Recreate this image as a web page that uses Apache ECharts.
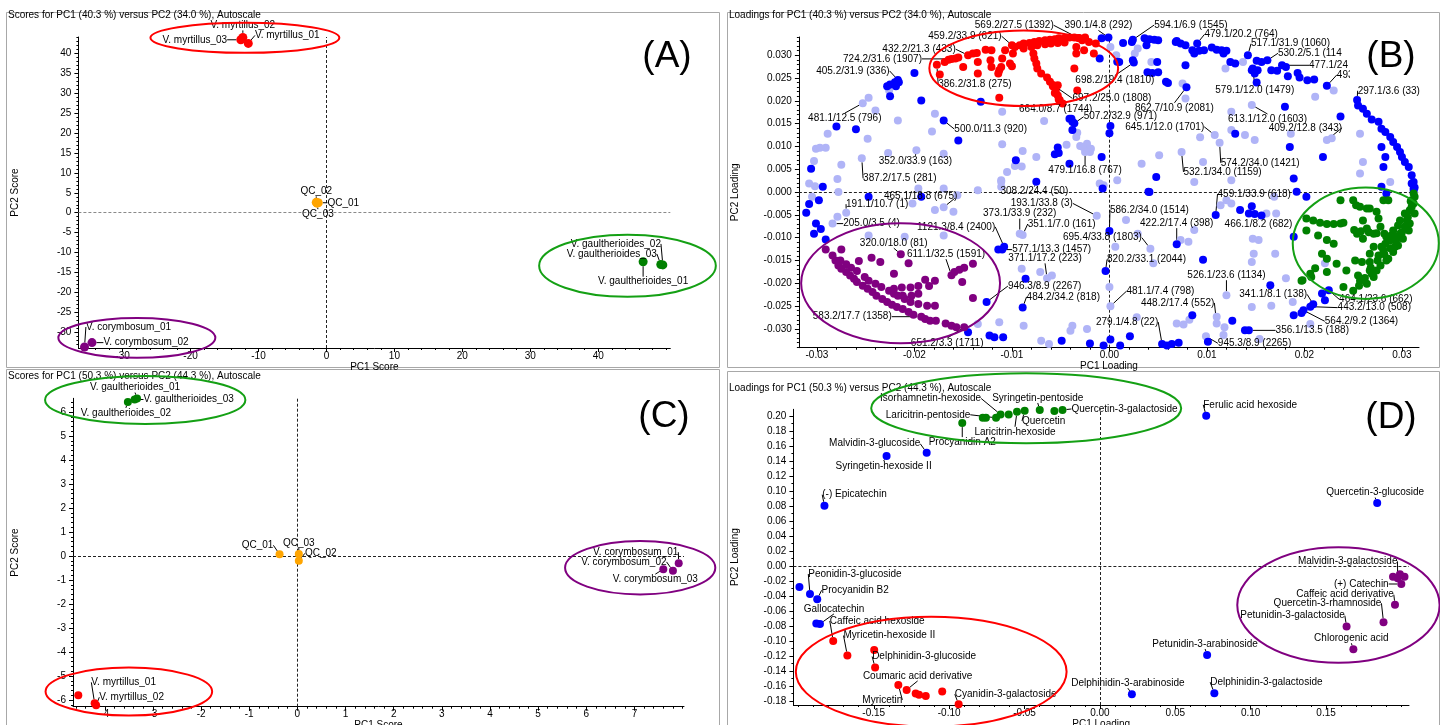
<!DOCTYPE html>
<html><head><meta charset="utf-8">
<script src="https://cdn.jsdelivr.net/npm/echarts@6.0.0/dist/echarts.min.js"></script>
<style>html,body{margin:0;padding:0;background:#fff}#c{width:1440px;height:725px}</style>
</head><body><div id="c"></div><script>
const FONT = "'Liberation Sans', Arial, Helvetica, sans-serif";

// ---------- Panel A : scores PC1 vs PC2 ----------
const A_MYRT = [[-11.5,42.5,'V. myrtillus_01'],[-12.3,44.0,'V. myrtillus_02'],[-12.6,43.4,'V. myrtillus_03']];
const A_QC = [[-1.2,2.5,'QC_01'],[-1.5,2.6,'QC_02'],[-1.4,2.4,'QC_03']];
const A_GAUL = [[46.6,-12.3,'V. gaultherioides_01'],[49.5,-13.1,'V. gaultherioides_02'],[49.2,-13.0,'V. gaultherioides_03']];
const A_CORY = [[-35.6,-33.7,'V. corymbosum_01'],[-34.5,-32.6,'V. corymbosum_02']];
const A_XTICKS = [-30,-20,-10,0,10,20,30,40];
const A_YTICKS = [-30,-25,-20,-15,-10,-5,0,5,10,15,20,25,30,35,40];

// ---------- Panel C : scores ----------
const C_GAUL = [[-3.33,6.56,'V. gaultherioides_01'],[-3.38,6.52,'V. gaultherioides_03'],[-3.52,6.42,'V. gaultherioides_02']];
const C_QC = [[-0.37,0.07,'QC_01'],[0.03,0.08,'QC_03'],[0.03,-0.2,'QC_02']];
const C_CORY = [[7.92,-0.3,'V. corymbosum_01'],[7.8,-0.62,'V. corymbosum_02'],[7.6,-0.55,'V. corymbosum_03']];
const C_MYRT = [[-4.21,-6.14,'V. myrtillus_01'],[-4.18,-6.22,'V. myrtillus_02'],[-4.55,-5.8]];
const C_XTICKS = [-4,-3,-2,-1,0,1,2,3,4,5,6,7];
const C_YTICKS = [-6,-5,-4,-3,-2,-1,0,1,2,3,4,5,6];

// ---------- Panel D : loadings (named compounds) ----------
const D_GREEN = [[-0.0777,0.1976],[-0.0756,0.1976],[-0.0689,0.1976,'Laricitrin-pentoside'],[-0.0659,0.2020,'Isorhamnetin-hexoside'],[-0.0605,0.2020],[-0.0550,0.2056,'Laricitrin-hexoside'],[-0.0499,0.2069,'Quercetin'],[-0.0399,0.2080,'Syringetin-pentoside'],[-0.0302,0.2065],[-0.0248,0.2080,'Quercetin-3-galactoside'],[-0.0913,0.1905,'Procyanidin A2']];
const D_BLUE = [[0.0705,0.2002,'Ferulic acid hexoside'],[-0.1149,0.1510,'Malvidin-3-glucoside'],[-0.1415,0.1465,'Syringetin-hexoside II'],[-0.1827,0.0804,'(-) Epicatechin'],[0.1839,0.0839,'Quercetin-3-glucoside'],[-0.1993,-0.0280],[-0.1923,-0.0373,'Peonidin-3-glucoside'],[-0.1875,-0.0444,'Procyanidin B2'],[-0.1881,-0.0768],[-0.1857,-0.0772,'Gallocatechin'],[0.0711,-0.1186,'Petunidin-3-arabinoside'],[0.0212,-0.1709,'Delphinidin-3-arabinoside'],[0.0759,-0.1696,'Delphinidin-3-galactoside']];
const D_RED = [[-0.1769,-0.0999,'Caffeic acid hexoside'],[-0.1675,-0.1194,'Myricetin-hexoside II'],[-0.1497,-0.1119],[-0.1491,-0.1354,'Delphinidin-3-glucoside'],[-0.1337,-0.1585,'Myricetin'],[-0.1282,-0.1652,'Coumaric acid derivative'],[-0.1222,-0.1701],[-0.1200,-0.1718],[-0.1155,-0.1732],[-0.1046,-0.1674],[-0.0937,-0.1843,'Cyanidin-3-galactoside']];
const D_PURPLE = [[0.1990,-0.0111],[0.2020,-0.0142],[0.1944,-0.0142],[0.1975,-0.0164,'Malvidin-3-galactoside'],[0.1999,-0.0240,'(+) Catechin'],[0.1957,-0.0515,'Caffeic acid derivative'],[0.1881,-0.0750,'Quercetin-3-rhamnoside'],[0.1636,-0.0808,'Petunidin-3-galactoside'],[0.1681,-0.1110,'Chlorogenic acid']];
const D_XTICKS = [-0.15,-0.10,-0.05,0,0.05,0.10,0.15];
const D_YTICKS = [-0.18,-0.16,-0.14,-0.12,-0.10,-0.08,-0.06,-0.04,-0.02,0,0.02,0.04,0.06,0.08,0.10,0.12,0.14,0.16,0.18,0.20];

// ---------- Panel B : loadings (features) ----------
const B_LIGHT = [[-0.0253,0.0195,'481.1/12.5 (796)'],[-0.0247,0.0207],[-0.0240,0.0179],[-0.0254,0.0074,'387.2/17.5 (281)'],[-0.0248,0.0117],[-0.0289,0.0128],[-0.0275,0.0060],[-0.0301,0.0095],[-0.0297,0.0097],[-0.0291,0.0097],[-0.0303,0.0068],[-0.0302,0.0013],[-0.0279,0.0029],[-0.0278,0.0000],[-0.0217,0.0157],[-0.0227,0.0086],[-0.0198,0.0092,'352.0/33.9 (163)'],[-0.0170,0.0084],[-0.0182,0.0133],[-0.0179,0.0172],[-0.0110,0.0176],[-0.0089,0.0090],[-0.0110,0.0105],[-0.0097,0.0057],[-0.0105,0.0044],[-0.0075,0.0077],[-0.0067,0.0156],[-0.0135,0.0004],[-0.0111,0.0026],[-0.0196,0.0008],[-0.0170,0.0008],[-0.0033,0.0130],[-0.0030,0.0101],[-0.0044,0.0104],[-0.0226,0.0223],[-0.0308,0.0019],
[0.0001,0.0318],[0.0007,0.0300],[0.0029,0.0315],[0.0026,0.0304],[0.0043,0.0285],[0.0075,0.0238],[0.0078,0.0205],[0.0119,0.0271],[0.0137,0.0285],[0.0146,0.0191,'613.1/12.0 (1603)'],[0.0125,0.0176],[0.0125,0.0136],[0.0113,0.0108,'574.2/34.0 (1421)'],[0.0108,0.0125,'645.1/12.0 (1701)'],[0.0093,0.0120],[0.0074,0.0088,'532.1/34.0 (1159)'],[0.0051,0.0081],[0.0033,0.0062],[0.0096,0.0066],[0.0149,0.0114],[0.0139,0.0125],[0.0186,0.0128],[0.0223,0.0114,'409.2/12.8 (343)'],[0.0228,0.0118],[0.0230,0.0223],[0.0211,0.0209],[0.0257,0.0128],[0.0260,0.0066],[0.0257,0.0041],[0.0288,0.0022],[0.0125,0.0026],[0.0087,0.0022],[-0.0023,0.0106],[-0.0019,0.0095],
[-0.0034,0.0121],[-0.0022,0.0096],[-0.0027,0.0099],[-0.0020,0.0088],[-0.0025,0.0088,'479.1/16.8 (767)'],[-0.0090,0.0056],[-0.0111,0.0023],[-0.0006,0.0015],[-0.0010,0.0019],[0.0008,0.0026],
[-0.0305,-0.0010],[-0.0270,-0.0045,'191.1/10.7 (1)'],[-0.0284,-0.0069,'205.0/3.5 (4)'],[-0.0247,-0.0095],[-0.0210,-0.0098],[-0.0170,-0.0033,'465.1/18.8 (675)'],[-0.0160,-0.0043],[-0.0170,-0.0095],[-0.0092,-0.0091,'373.1/33.9 (232)'],[-0.0089,-0.0094,'351.1/7.0 (161)'],[-0.0090,-0.0168],[-0.0071,-0.0175],[-0.0064,-0.0189,'371.1/17.2 (223)'],[-0.0059,-0.0183],[-0.0135,-0.0289],[-0.0113,-0.0285],[-0.0088,-0.0293],[-0.0038,-0.0293],[-0.0040,-0.0304],[-0.0070,-0.0326],[-0.0062,-0.0333],[-0.0111,0.0012],[-0.0279,-0.0054],[-0.0202,-0.0025],[-0.0179,-0.0039],[-0.0156,-0.0007],
[0.0114,-0.0029],[0.0125,-0.0025],[0.0161,-0.0047],[0.0171,-0.0047],[-0.0013,-0.0052,'193.1/33.8 (3)'],[0.0042,-0.0124,'695.4/33.8 (1803)'],[0.0081,-0.0109],[0.0147,-0.0102],[0.0170,-0.0135],[0.0146,-0.0153],[0.0120,-0.0226,'526.1/23.6 (1134)'],[0.0146,-0.0252],[0.0166,-0.0249],[0.0188,-0.0241],[0.0069,-0.0288],[0.0076,-0.0290],[0.0082,-0.0280],[0.0110,-0.0273],[0.0110,-0.0288,'448.2/17.4 (552)'],[0.0118,-0.0296],[0.0117,-0.0313],[0.0099,-0.0316,'945.3/8.9 (2265)'],[0.0028,-0.0274],[-0.0023,-0.0300],[0.0001,-0.0250,'481.1/7.4 (798)'],[0.0000,-0.0208],[0.0154,-0.0322],[0.0206,-0.0289],[0.0006,-0.0120],[0.0017,-0.0061],[0.0029,-0.0091],[0.0045,-0.0156],[0.0073,-0.0105],[0.0087,-0.0083],[0.0120,-0.0018],[0.0153,-0.0105],[0.0148,-0.0135],[0.0181,-0.0189],[0.0221,-0.0156],[0.0169,-0.0010]];

const B_DARK = [[-0.0008,0.0337],[-0.0001,0.0339,'390.1/4.8 (292)'],[-0.0010,0.0293],[0.0008,0.0286],[0.0014,0.0327],[0.0024,0.0334,'594.1/6.9 (1545)'],[0.0023,0.0329],[0.0036,0.0337],[0.0041,0.0335],[0.0046,0.0334],[0.0050,0.0333],[0.0038,0.0322],[0.0010,0.0285],[0.0024,0.0289],[0.0025,0.0284,'698.2/19.4 (1810)'],[0.0049,0.0285],[0.0039,0.0263],[0.0044,0.0261],[0.0050,0.0263],[0.0060,0.0239],[0.0079,0.0230,'862.7/10.9 (2081)'],[0.0058,0.0242],[0.0068,0.0329],[0.0073,0.0326],[0.0078,0.0322],[0.0090,0.0326,'479.1/20.2 (764)'],[0.0085,0.0311],[0.0087,0.0304],[0.0092,0.0310],[0.0097,0.0311],[0.0105,0.0317],[0.0110,0.0312],[0.0115,0.0311],[0.0120,0.0310],[0.0117,0.0304],[0.0078,0.0278],[0.0124,0.0285],[0.0129,0.0282],[0.0142,0.0300,'517.1/31.9 (1060)'],[0.0151,0.0288],[0.0156,0.0285],[0.0162,0.0289,'530.2/5.1 (114'],[0.0146,0.0267],[0.0152,0.0267],[0.0149,0.0260],[0.0147,0.0271,'579.1/12.0 (1479)'],[0.0151,0.0240],[0.0166,0.0267],[0.0172,0.0266],[0.0177,0.0278,'477.1/24'],[0.0181,0.0274],[0.0183,0.0254],[0.0193,0.0261],[0.0195,0.0251],[0.0203,0.0245],[0.0210,0.0247],[0.0223,0.0233,'493'],[0.0180,0.0187],[0.0237,0.0166],[0.0129,0.0128],[0.0185,0.0099],[0.0219,0.0077],[0.0048,0.0033],[0.0189,0.0030],[-0.0008,0.0077],[0.0069,0.0331],
[0.0255,0.0190],[0.0254,0.0202,'297.1/3.6 (33)'],[0.0260,0.0183],[0.0264,0.0172],[0.0269,0.0159],[0.0276,0.0154],[0.0279,0.0139],[0.0283,0.0132],[0.0288,0.0121],[0.0291,0.0110],[0.0295,0.0099],[0.0298,0.0088],[0.0300,0.0077],[0.0303,0.0066],[0.0307,0.0055],[0.0310,0.0037],[0.0312,0.0022],[0.0279,0.0099],[0.0283,0.0077],[0.0281,0.0055],[0.0313,0.0010],[0.0312,0.0003],
[-0.0007,0.0008],[0.0001,0.0145],[0.0000,0.0129],[0.0041,0.0000],[-0.0036,0.0151,'507.2/32.9 (971)'],[-0.0039,0.0161],[-0.0038,0.0154],[-0.0038,0.0136],[-0.0041,0.0161],
[-0.0200,0.0261],[-0.0225,0.0236],[-0.0220,0.0241],[-0.0216,0.0241],[-0.0228,0.0232],[-0.0219,0.0232],[-0.0217,0.0246,'405.2/31.9 (336)'],[-0.0225,0.0210],[-0.0193,0.0201],[-0.0132,0.0198],[-0.0170,0.0157,'500.0/11.3 (920)'],[-0.0280,0.0144],[-0.0260,0.0138],[-0.0155,0.0113],[-0.0306,0.0051],[-0.0096,0.0070],[-0.0053,0.0098],[-0.0056,0.0083],[-0.0052,0.0086],[-0.0041,0.0062],[-0.0075,0.0023,'308.2/24.4 (50)'],
[-0.0311,-0.0045],[-0.0308,-0.0026],[-0.0298,-0.0018],[-0.0294,0.0012],[-0.0301,-0.0069],[-0.0296,-0.0081],[-0.0303,-0.0091],[-0.0291,-0.0104],[-0.0247,-0.0010],[-0.0193,-0.0010],[-0.0126,-0.0241,'946.3/8.9 (2267)'],[-0.0108,-0.0120,'1121.3/8.4 (2400)'],[-0.0110,-0.0126,'577.1/13.3 (1457)'],[-0.0114,-0.0126],[-0.0086,-0.0190],[-0.0089,-0.0253,'484.2/34.2 (818)'],[-0.0145,-0.0307],[-0.0123,-0.0314],[-0.0118,-0.0318],[-0.0109,-0.0318],[-0.0049,-0.0326],[-0.0004,-0.0173,'820.2/33.1 (2044)'],[0.0000,-0.0085,'586.2/34.0 (1514)'],
[0.0040,0.0001],[0.0109,-0.0050,'459.1/33.9 (618)'],[0.0134,-0.0039],[0.0143,-0.0047],[0.0149,-0.0048],[0.0156,-0.0051,'466.1/8.2 (682)'],[0.0146,-0.0031],[0.0069,-0.0114,'422.2/17.4 (398)'],[0.0096,-0.0148],[0.0189,-0.0098],[0.0165,-0.0204],[0.0218,-0.0222],[0.0221,-0.0237],[0.0225,-0.0215,'464.1/23.6 (662)'],[0.0209,-0.0246,'341.1/8.1 (138)'],[0.0206,-0.0251,'443.2/13.0 (508)'],[0.0199,-0.0259,'564.2/9.2 (1364)'],[0.0197,-0.0265],[0.0189,-0.0270],[0.0143,-0.0303,'356.1/13.5 (188)'],[0.0139,-0.0303],[0.0126,-0.0282],[0.0085,-0.0270],[0.0101,-0.0328],[0.0054,-0.0333,'279.1/4.8 (22)'],[0.0059,-0.0336],[0.0064,-0.0333],[0.0071,-0.0330],[0.0001,-0.0323],[0.0011,-0.0336],[0.0021,-0.0316],[-0.0006,-0.0336],[-0.0020,-0.0332],[0.0192,0.0001],[0.0202,-0.0010],[0.0279,0.0012],[0.0284,-0.0003],[0.0310,0.0019],[0.0312,0.0008]];

const B_RED = [[-0.0177,0.0279,'386.2/31.8 (275)'],[-0.0174,0.0258],[-0.0169,0.0285],[-0.0165,0.0290],[-0.0158,0.0293],[-0.0155,0.0295],[-0.0150,0.0274],[-0.0145,0.0300,'432.2/21.3 (433)'],[-0.0140,0.0304],[-0.0136,0.0305],[-0.0135,0.0285],[-0.0135,0.0260],[-0.0127,0.0312],[-0.0122,0.0289],[-0.0121,0.0311],[-0.0121,0.0274],[-0.0114,0.0260],[-0.0113,0.0267],[-0.0111,0.0274],[-0.0110,0.0293],[-0.0107,0.0311],[-0.0102,0.0282],[-0.0099,0.0304],[-0.0100,0.0276],[-0.0097,0.0318],[-0.0113,0.0207],[-0.0033,0.0223],[-0.0036,0.0271],[-0.0034,0.0318],
[-0.0092,0.0322],[-0.0088,0.0326],[-0.0082,0.0327],[-0.0077,0.0329],[-0.0072,0.0331],[-0.0066,0.0333],[-0.0061,0.0334],[-0.0056,0.0335],[-0.0052,0.0337],[-0.0046,0.0337],[-0.0041,0.0339],[-0.0036,0.0339],[-0.0031,0.0338],[-0.0088,0.0315],[-0.0080,0.0318],[-0.0074,0.0322],[-0.0066,0.0324],[-0.0060,0.0326],[-0.0053,0.0327],[-0.0046,0.0328],
[-0.0078,0.0304],[-0.0077,0.0293],[-0.0075,0.0282],[-0.0074,0.0271],[-0.0070,0.0260],[-0.0064,0.0251],[-0.0061,0.0242],[-0.0058,0.0232],[-0.0055,0.0222],[-0.0053,0.0212],[-0.0052,0.0203],[-0.0048,0.0194],[-0.0053,0.0234],[-0.0056,0.0217],
[-0.0028,0.0333],[-0.0021,0.0329],[-0.0014,0.0326],[-0.0026,0.0311],[-0.0016,0.0304],[-0.0034,0.0304],[-0.0025,0.0339],
[-0.0032,0.0338,'569.2/27.5 (1392)'],[-0.0100,0.0322,'459.2/33.9 (621)'],[-0.0162,0.0292,'724.2/31.6 (1907)'],[-0.0058,0.0235,'697.2/25.0 (1808)'],[-0.0051,0.0202,'664.0/8.7 (1744)']];

const B_GREEN = [[0.0202,-0.0058],[0.0209,-0.0062],[0.0216,-0.0067],[0.0223,-0.0070],[0.0230,-0.0070],[0.0237,-0.0069],[0.0202,-0.0084],[0.0214,-0.0095],[0.0230,-0.0113],[0.0240,-0.0067],[0.0250,-0.0018],[0.0257,-0.0032],[0.0264,-0.0036],[0.0274,-0.0043],[0.0281,-0.0018],[0.0276,-0.0058],[0.0264,-0.0080],[0.0254,-0.0091],[0.0260,-0.0102],[0.0271,-0.0120],[0.0279,-0.0120],[0.0267,-0.0135],[0.0259,-0.0153],[0.0252,-0.0150],[0.0243,-0.0172],[0.0233,-0.0157],[0.0223,-0.0146],[0.0223,-0.0175],[0.0240,-0.0208],[0.0250,-0.0216],[0.0257,-0.0194],[0.0267,-0.0172],[0.0278,-0.0161],[0.0284,-0.0150],[0.0293,-0.0120],[0.0298,-0.0091],[0.0305,-0.0062],[0.0308,-0.0040],[0.0312,-0.0025],[0.0313,-0.0047],[0.0303,-0.0076],[0.0295,-0.0098],[0.0288,-0.0106],[0.0281,-0.0128],[0.0271,-0.0186],[0.0264,-0.0201],[0.0255,-0.0183],[0.0197,-0.0194],[0.0206,-0.0179],
[0.0308,-0.0069],[0.0307,-0.0084],[0.0301,-0.0102],[0.0296,-0.0117],[0.0291,-0.0131],[0.0286,-0.0146],[0.0274,-0.0172],[0.0269,-0.0179],[0.0298,-0.0062],[0.0291,-0.0084],[0.0284,-0.0098],[0.0278,-0.0076],[0.0271,-0.0091],[0.0260,-0.0062],[0.0312,-0.0003],[0.0310,-0.0018],[0.0303,-0.0047],[0.0296,-0.0073],[0.0289,-0.0095],[0.0283,-0.0113],[0.0276,-0.0139],[0.0267,-0.0153],
[0.0310,-0.0032],[0.0306,-0.0055],[0.0300,-0.0088],[0.0294,-0.0106],[0.0288,-0.0123],[0.0282,-0.0136],[0.0275,-0.0150],[0.0268,-0.0166],[0.0262,-0.0188],[0.0256,-0.0205],[0.0313,-0.0010],[0.0309,-0.0020],
[0.0251,-0.0083],[0.0258,-0.0086],[0.0266,-0.0088],[0.0274,-0.0090],[0.0282,-0.0091],[0.0223,-0.0105],[0.0218,-0.0135],[0.0211,-0.0167],[0.0207,-0.0186],[0.0198,-0.0193],[0.0237,-0.0018],[0.0253,-0.0029],[0.0267,-0.0036],[0.0286,-0.0018]];

const B_PURPLE = [[-0.0284,-0.0139],[-0.0281,-0.0150],[-0.0278,-0.0161],[-0.0275,-0.0168],[-0.0270,-0.0175],[-0.0266,-0.0183],[-0.0262,-0.0190],[-0.0259,-0.0197],[-0.0253,-0.0205],[-0.0248,-0.0212],[-0.0243,-0.0219],[-0.0239,-0.0227],[-0.0233,-0.0234],[-0.0228,-0.0241],[-0.0223,-0.0247],[-0.0218,-0.0252],[-0.0212,-0.0256],[-0.0206,-0.0263],[-0.0201,-0.0269],[-0.0193,-0.0273,'583.2/17.7 (1358)'],[-0.0189,-0.0278],[-0.0184,-0.0282],[-0.0178,-0.0282],[-0.0168,-0.0288],[-0.0162,-0.0293],[-0.0157,-0.0296],[-0.0149,-0.0296,'651.2/3.3 (1711)'],
[-0.0291,-0.0126],[-0.0275,-0.0126],
[-0.0276,-0.0150],[-0.0270,-0.0158],[-0.0265,-0.0166],[-0.0259,-0.0173],[-0.0251,-0.0186],[-0.0247,-0.0194],[-0.0240,-0.0201],[-0.0234,-0.0208],[-0.0226,-0.0216],[-0.0221,-0.0223],[-0.0217,-0.0227],[-0.0210,-0.0234],[-0.0204,-0.0241],
[-0.0221,-0.0212],[-0.0213,-0.0209],[-0.0204,-0.0209],[-0.0196,-0.0206],[-0.0185,-0.0206],[-0.0212,-0.0227],[-0.0203,-0.0227],[-0.0196,-0.0223],[-0.0196,-0.0245],[-0.0187,-0.0249],[-0.0179,-0.0249],
[-0.0257,-0.0151],[-0.0244,-0.0144],[-0.0235,-0.0153],[-0.0221,-0.0179],[-0.0214,-0.0136,'320.0/18.0 (81)'],[-0.0206,-0.0156],[-0.0189,-0.0192],[-0.0179,-0.0194],[-0.0162,-0.0182,'611.1/32.5 (1591)'],[-0.0159,-0.0175],[-0.0154,-0.0170],[-0.0149,-0.0166],[-0.0151,-0.0197],[-0.0140,-0.0157],[-0.0140,-0.0232]];
const B_XTICKS = [-0.03,-0.02,-0.01,0,0.01,0.02,0.03];
const B_YTICKS = [-0.03,-0.025,-0.02,-0.015,-0.01,-0.005,0,0.005,0.01,0.015,0.02,0.025,0.03];

// ---------- layout / style (kept apart from the data) ----------
const OFF_A = {'V. myrtillus_01':[39,-8],'V. myrtillus_02':[0,-12],'V. myrtillus_03':[-46,0],'QC_01':[25,0],'QC_02':[0,-11],'QC_03':[1,11],
 'V. gaultherioides_01':[0,20],'V. gaultherioides_02':[-47,-21],'V. gaultherioides_03':[-49,-10.5],'V. corymbosum_01':[44,-20],'V. corymbosum_02':[54,0]};
const OFF_C = {'V. gaultherioides_01':[-2,-11],'V. gaultherioides_03':[54,0],'V. gaultherioides_02':[-2,11],'QC_01':[-22,-9],'QC_03':[0,-11],'QC_02':[22,-7.5],
 'V. corymbosum_01':[-43,-11],'V. corymbosum_02':[-49,-9],'V. corymbosum_03':[-8,10],'V. myrtillus_01':[29,-21],'V. myrtillus_02':[35.5,-8]};
const OFF_D = {'Isorhamnetin-hexoside':[-70,-16],'Syringetin-pentoside':[-2,-12],'Laricitrin-pentoside':[-68,-3],'Quercetin-3-galactoside':[62,-1],'Quercetin':[19,10],
 'Laricitrin-hexoside':[-2,20],'Procyanidin A2':[0,19],'Malvidin-3-glucoside':[-52,-9],'Syringetin-hexoside II':[-3,10],'(-) Epicatechin':[30,-11],
 'Ferulic acid hexoside':[44,-11],'Quercetin-3-glucoside':[-2,-10.5],'Peonidin-3-glucoside':[45,-20],'Procyanidin B2':[38,-9],'Gallocatechin':[14,-15],
 'Petunidin-3-arabinoside':[-2,-11],'Delphinidin-3-arabinoside':[-4,-11],'Delphinidin-3-galactoside':[52,-11],'Caffeic acid hexoside':[44,-20],
 'Myricetin-hexoside II':[42,-20],'Delphinidin-3-glucoside':[49,-11],'Myricetin':[-16,15],'Coumaric acid derivative':[11,-14],'Cyanidin-3-galactoside':[47,-10],
 'Malvidin-3-galactoside':[-50,-17],'(+) Catechin':[-40,0],'Caffeic acid derivative':[-50,-10],'Quercetin-3-rhamnoside':[-56,-19],'Petunidin-3-galactoside':[-54,-11],'Chlorogenic acid':[-2,-11]};
const OFF_B = {'569.2/27.5 (1392)':[-64,-12.6],'390.1/4.8 (292)':[-10,-12],'594.1/6.9 (1545)':[58,-14.7],'479.1/20.2 (764)':[44,-9],'517.1/31.9 (1060)':[42.6,-11.5],
 '530.2/5.1 (114':[10.6,-7,'left'],'477.1/24':[27,0,'left'],'493':[10,-11,'left'],'297.1/3.6 (33)':[31.7,-9.2],'579.1/12.0 (1479)':[2,21.6],'862.7/10.9 (2081)':[-12,20.6],
 '613.1/12.0 (1603)':[15.7,14],'409.2/12.8 (343)':[-21.5,-12.3],'645.1/12.0 (1701)':[-50,-8.3],'574.2/34.0 (1421)':[40.6,20],'532.1/34.0 (1159)':[41,20],
 '479.1/16.8 (767)':[0,18],'507.2/32.9 (971)':[46,-6.5],'698.2/19.4 (1810)':[-19,18],'697.2/25.0 (1808)':[59,13.5],'664.0/8.7 (1744)':[-4,9],
 '459.2/33.9 (621)':[-47,-9],'432.2/21.3 (433)':[-49,-6],'724.2/31.6 (1907)':[-69,0],'405.2/31.9 (336)':[-45,-9],'386.2/31.8 (275)':[38,19],
 '481.1/12.5 (796)':[-18,15],'500.0/11.3 (920)':[47,8.6],'352.0/33.9 (163)':[-1,10.7],'387.2/17.5 (281)':[38,20],'465.1/18.8 (675)':[-23,-11],
 '191.1/10.7 (1)':[31,-8.5],'205.0/3.5 (4)':[39,0],'1121.3/8.4 (2400)':[-48,-20],'577.1/13.3 (1457)':[10,0,'left'],'320.0/18.0 (81)':[-7,-11],
 '611.1/32.5 (1591)':[-5.5,-21],'371.1/17.2 (223)':[-2,-20],'373.1/33.9 (232)':[0,-20],'351.1/7.0 (161)':[39,-11],'193.1/33.8 (3)':[-55,-12.4],
 '586.2/34.0 (1514)':[40,-21],'308.2/24.4 (50)':[-2,10],'459.1/33.9 (618)':[38.5,-21],'466.1/8.2 (682)':[-3,9],'422.2/17.4 (398)':[0,-21],
 '695.4/33.8 (1803)':[-48,-11],'820.2/33.1 (2044)':[41,-11.6],'526.1/23.6 (1134)':[0,-20],'481.1/7.4 (798)':[50,-15],'341.1/8.1 (138)':[-40,-10],
 '484.2/34.2 (818)':[40.6,-10.7],'946.3/8.9 (2267)':[58,-16],'464.1/23.6 (662)':[47,9],'443.2/13.0 (508)':[64,1],'564.2/9.2 (1364)':[58,11],
 '448.2/17.4 (552)':[-39,-20.6],'279.1/4.8 (22)':[-35,-22],'356.1/13.5 (188)':[63.4,0],'945.3/8.9 (2265)':[48.6,7],'583.2/17.7 (1358)':[-69,0],'651.2/3.3 (1711)':[-17,16]};

const GRIDS = [
 {left:78.4, top:37, width:591.9, height:311},
 {left:798.9, top:37, width:620.1, height:310.7},
 {left:73, top:398.3, width:611, height:308.4},
 {left:793.4, top:409.3, width:615.6, height:295.7}];
const RANGES = [
 {x:[-36.5,50.6], y:[-33.95,44.1]},
 {x:[-0.03185,0.03175], y:[-0.0341,0.034]},
 {x:[-4.66,8.03], y:[-6.28,6.57]},
 {x:[-0.2033,0.205], y:[-0.1853,0.2089]}];
const ELLIPSES = [
 {g:0,cx:-12.0,cy:43.9,rx:13.9,ry:3.76,c:'#ff0000'},{g:0,cx:44.3,cy:-13.3,rx:13.0,ry:7.8,c:'#14a014'},{g:0,cx:-27.9,cy:-31.4,rx:11.55,ry:5.0,c:'#800080'},
 {g:1,cx:-0.00879,cy:0.02713,rx:0.00968,ry:0.00827,c:'#ff0000'},{g:1,cx:-0.02142,cy:-0.01996,rx:0.0102,ry:0.01316,c:'#800080'},{g:1,cx:0.02629,cy:-0.0112,rx:0.00749,ry:0.0122,c:'#14a014'},
 {g:2,cx:-3.16,cy:6.5,rx:2.08,ry:1.0,c:'#14a014'},{g:2,cx:7.12,cy:-0.49,rx:1.56,ry:1.11,c:'#800080'},{g:2,cx:-3.5,cy:-5.65,rx:1.73,ry:1.0,c:'#ff0000'},
 {g:3,cx:-0.0489,cy:0.2103,rx:0.1028,ry:0.0467,c:'#14a014'},{g:3,cx:0.1582,cy:-0.052,rx:0.0671,ry:0.0769,c:'#800080'},{g:3,cx:-0.1119,cy:-0.1409,rx:0.0898,ry:0.0733,c:'#ff0000'}];
const ZERO_H_COLOR = ['#8a8a8a','#222','#222','#222'];

function seq(a,b,s,dec){const o=[];const n=Math.round((b-a)/s);for(let i=0;i<=n;i++)o.push(+(a+i*s).toFixed(dec));return o;}
const MINORS = [
 {x:seq(-36,50,2,0), y:seq(-33,44,1,0)},
 {x:seq(-0.030,0.030,0.002,3), y:seq(-0.034,0.034,0.001,3)},
 {x:seq(-4.6,8.0,0.2,1), y:seq(-6.2,6.4,0.2,1)},
 {x:seq(-0.20,0.20,0.01,2), y:seq(-0.18,0.20,0.01,2)}];
const MAJORS = [{x:A_XTICKS,y:A_YTICKS},{x:B_XTICKS,y:B_YTICKS},{x:C_XTICKS,y:C_YTICKS},{x:D_XTICKS,y:D_YTICKS}];
const FMT = [{x:v=>String(v),y:v=>String(v)},{x:v=>v.toFixed(2),y:v=>v.toFixed(3)},{x:v=>String(v),y:v=>String(v)},{x:v=>v.toFixed(2),y:v=>v.toFixed(2)}];
const NAMES = [{x:'PC1 Score',y:'PC2 Score',yg:58},{x:'PC1 Loading',y:'PC2 Loading',yg:59},{x:'PC1 Score',y:'PC2 Score',yg:53},{x:'PC1 Loading',y:'PC2 Loading',yg:53}];

const grids=[], xAxes=[], yAxes=[];
for (let g=0; g<4; g++) grids.push(Object.assign({containLabel:false, outerBoundsMode:'none', show:false}, GRIDS[g]));
for (let g=0; g<4; g++) grids.push(Object.assign({containLabel:false, outerBoundsMode:'none', show:false}, GRIDS[g]));
const txt = {color:'#000', fontSize:10, fontFamily:FONT};
for (let g=0; g<4; g++) {
  xAxes.push({type:'value', gridIndex:g, min:RANGES[g].x[0], max:RANGES[g].x[1], position:'bottom',
    axisLine:{show:true,onZero:false,lineStyle:{color:'#000',width:1}},
    axisTick:{show:true,inside:false,length:4,customValues:MAJORS[g].x,lineStyle:{color:'#000',width:1}},
    axisLabel:Object.assign({show:true,customValues:MAJORS[g].x,formatter:FMT[g].x,margin:3},txt),
    splitLine:{show:false}, name:NAMES[g].x, nameLocation:'middle', nameGap:11, nameTextStyle:txt});
  yAxes.push({type:'value', gridIndex:g, min:RANGES[g].y[0], max:RANGES[g].y[1], position:'left',
    axisLine:{show:true,onZero:false,lineStyle:{color:'#000',width:1}},
    axisTick:{show:true,inside:false,length:4,customValues:MAJORS[g].y,lineStyle:{color:'#000',width:1}},
    axisLabel:Object.assign({show:true,customValues:MAJORS[g].y,formatter:FMT[g].y,margin:7},txt),
    splitLine:{show:false}, name:NAMES[g].y, nameLocation:'middle', nameGap:NAMES[g].yg, nameTextStyle:txt});
}
for (let g=0; g<4; g++) {
  xAxes.push({type:'value', gridIndex:4+g, min:RANGES[g].x[0], max:RANGES[g].x[1], position:'bottom',
    axisLine:{show:false,onZero:false}, axisTick:{show:true,length:2,customValues:MINORS[g].x,lineStyle:{color:'#000',width:1}},
    axisLabel:{show:false}, splitLine:{show:false}});
  yAxes.push({type:'value', gridIndex:4+g, min:RANGES[g].y[0], max:RANGES[g].y[1], position:'left',
    axisLine:{show:false,onZero:false}, axisTick:{show:true,length:2,customValues:MINORS[g].y,lineStyle:{color:'#000',width:1}},
    axisLabel:{show:false}, splitLine:{show:false}});
}

function layoutFor(arr, OFF){
  return function(p){
    const it = arr[p.dataIndex]; const nm = it && it[2];
    if (!nm || !OFF[nm]) return {};
    const o = OFF[nm];
    const cx = p.rect.x + p.rect.width/2, cy = p.rect.y + p.rect.height/2;
    return {x: cx + o[0], y: cy + o[1], align: o[2] || 'center', verticalAlign: 'middle'};
  };
}
function sc(arr, g, color, size, OFF, zeroLines){
  const s = {type:'scatter', xAxisIndex:g, yAxisIndex:g, symbolSize:size, silent:true, animation:false,
    itemStyle:{color:color, opacity:1, borderWidth:0},
    data: arr.map(p => p.length > 2 ? {value:[p[0],p[1]], name:p[2], label:{show:true}} : {value:[p[0],p[1]]}),
    label:{show:false, formatter:'{b}', color:'#000', fontSize:10, fontFamily:FONT},
    labelLine:{show:true, lineStyle:{color:'#000', width:1}},
    labelLayout: layoutFor(arr, OFF), emphasis:{disabled:true}};
  if (zeroLines) s.markLine = {silent:true, symbol:['none','none'], z:1, label:{show:false}, animation:false,
    lineStyle:{color:'#222', type:[3,2], width:1},
    data:[{xAxis:0},{yAxis:0, lineStyle:{color:ZERO_H_COLOR[g], type:[3,2], width:1}}]};
  return s;
}

const series = [
  sc(A_QC,0,'#ffa500',9,OFF_A,true), sc(A_MYRT,0,'#ff0000',9,OFF_A), sc(A_GAUL,0,'#008000',9,OFF_A), sc(A_CORY,0,'#800080',9,OFF_A),
  sc(B_LIGHT,1,'#b0b4f7',8,OFF_B,true), sc(B_DARK,1,'#0000ff',8,OFF_B), sc(B_RED,1,'#ff0000',8,OFF_B), sc(B_GREEN,1,'#008000',8,OFF_B), sc(B_PURPLE,1,'#800080',8,OFF_B),
  sc(C_QC,2,'#ffa500',8,OFF_C,true), sc(C_GAUL,2,'#008000',8,OFF_C), sc(C_CORY,2,'#800080',8,OFF_C), sc(C_MYRT,2,'#ff0000',8,OFF_C),
  sc(D_BLUE,3,'#0000ff',8,OFF_D,true), sc(D_GREEN,3,'#008000',8,OFF_D), sc(D_RED,3,'#ff0000',8,OFF_D), sc(D_PURPLE,3,'#800080',8,OFF_D)];

const ttl = {fontSize:10, fontWeight:'normal', color:'#000', fontFamily:FONT};
const option = {
  animation:false, backgroundColor:'#fff',
  title:[
    {text:'Scores for PC1 (40.3 %) versus PC2 (34.0 %), Autoscale', left:8, top:10, padding:0, textStyle:ttl},
    {text:'Loadings for PC1 (40.3 %) versus PC2 (34.0 %), Autoscale', left:729, top:10, padding:0, textStyle:ttl},
    {text:'Scores for PC1 (50.3 %) versus PC2 (44.3 %), Autoscale', left:8, top:371, padding:0, textStyle:ttl},
    {text:'Loadings for PC1 (50.3 %) versus PC2 (44.3 %), Autoscale', left:729, top:383, padding:0, textStyle:ttl}],
  grid:grids, xAxis:xAxes, yAxis:yAxes, series:series
};
const chart = echarts.init(document.getElementById('c'));
chart.setOption(option);

const gfx = [
  {type:'rect', shape:{x:6.5,y:12.5,width:713,height:355}, style:{fill:'none',stroke:'#a8a8a8',lineWidth:1}, z:0, silent:true},
  {type:'rect', shape:{x:727.5,y:12.5,width:712,height:355}, style:{fill:'none',stroke:'#a8a8a8',lineWidth:1}, z:0, silent:true},
  {type:'rect', shape:{x:6.5,y:369.5,width:713,height:360}, style:{fill:'none',stroke:'#a8a8a8',lineWidth:1}, z:0, silent:true},
  {type:'rect', shape:{x:727.5,y:371.5,width:712,height:360}, style:{fill:'none',stroke:'#a8a8a8',lineWidth:1}, z:0, silent:true},
  {type:'rect', shape:{x:1350,y:22,width:88,height:63}, style:{fill:'#fff'}, z:60, silent:true}];
const LETTERS = [['(A)',667,57],['(B)',1391,57],['(C)',664,417],['(D)',1391,418]];
LETTERS.forEach(l => gfx.push({type:'text', x:l[1], y:l[2], z:61, silent:true,
  style:{text:l[0], align:'center', verticalAlign:'middle', fontSize:37, fontFamily:FONT, fill:'#000'}}));
ELLIPSES.forEach(e => {
  const c = chart.convertToPixel({xAxisIndex:e.g, yAxisIndex:e.g}, [e.cx, e.cy]);
  const a = chart.convertToPixel({xAxisIndex:e.g, yAxisIndex:e.g}, [e.cx + e.rx, e.cy + e.ry]);
  gfx.push({type:'ellipse', z:50, silent:true, shape:{cx:c[0], cy:c[1], rx:Math.abs(a[0]-c[0]), ry:Math.abs(a[1]-c[1])},
    style:{fill:'none', stroke:e.c, lineWidth:2}});
});
chart.setOption({graphic:{elements:gfx}});
</script></body></html>
